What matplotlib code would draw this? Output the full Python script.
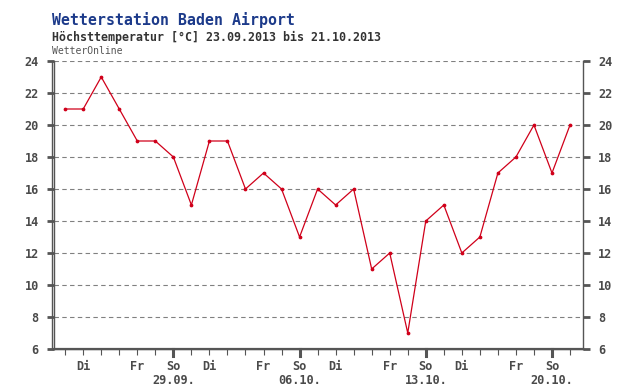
import matplotlib

matplotlib.use("Agg")
import matplotlib.pyplot as plt
from matplotlib.lines import Line2D

# Höchsttemperatur 23.09.2013 .. 21.10.2013
temps = [21, 21, 23, 21, 19, 19, 18, 15, 19, 19, 16, 17, 16, 13, 16,
         15, 16, 11, 12, 7, 14, 15, 12, 13, 17, 18, 20, 17, 20]
weekday_idx = [1, 4, 6, 8, 11, 13, 15, 18, 20, 22, 25, 27]
weekday_lab = ["Di", "Fr", "So", "Di", "Fr", "So", "Di", "Fr", "So", "Di", "Fr", "So"]
sunday_idx = [6, 13, 20, 27]
sunday_dates = ["29.09.", "06.10.", "13.10.", "20.10."]
yticks = [6, 8, 10, 12, 14, 16, 18, 20, 22, 24]

ink = "#4a4a4a"
blue = "#1c3a8a"
red = "#d0001a"
mono = "DejaVu Sans Mono"

fig = plt.figure(figsize=(6.4, 3.9), dpi=100)
ax = fig.add_axes([54 / 640, 1 - 349 / 390, (583 - 54) / 640, (349 - 61) / 390])

x = list(range(len(temps)))
ax.plot(x, temps, color=red, linewidth=0.9, marker="o", markersize=1.7)

ax.set_xlim(-0.62, 28.72)
ax.set_ylim(6, 24)
ax.set_yticks(yticks)
ax.set_yticklabels([str(v) for v in yticks], fontsize=8.6, fontweight="bold",
                   color=ink, family=mono)
ax.tick_params(axis="y", which="both", left=True, right=True, labelleft=True,
               labelright=True, length=5, width=2, color="#555555", pad=6)
for y in yticks[1:]:
    ax.axhline(y, color="#808080", linewidth=0.8, linestyle=(0, (4, 3)), zorder=0)

ax.set_xticks(x)
ax.set_xticklabels([])
ax.tick_params(axis="x", length=4, width=0.8, color="#555555", direction="out")

ax.spines["top"].set_visible(False)
for s in ["left", "right", "bottom"]:
    ax.spines[s].set_color("#555555")
    ax.spines[s].set_linewidth(1.0)

# double left edge
ax.add_line(Line2D([-0.62 - 2.5 / 18.04] * 2, [6, 24], color="#555555",
                   linewidth=1.0, clip_on=False))
ax.axhline(6, color="#555555", linewidth=1.6, clip_on=False)

for i in sunday_idx:
    ax.add_line(Line2D([i, i], [6, 6 - 7 / 16], color="#555555", linewidth=2.2,
                       clip_on=False))

for i, lab in zip(weekday_idx, weekday_lab):
    ax.text(i, 6 - 17 / 16, lab, ha="center", va="center", fontsize=8.6,
            fontweight="bold", color=ink, family=mono)
for i, lab in zip(sunday_idx, sunday_dates):
    ax.text(i, 6 - 31 / 16, lab, ha="center", va="center", fontsize=8.6,
            fontweight="bold", color=ink, family=mono)

fig.text(52 / 640, 1 - 20 / 390, "Wetterstation Baden Airport", fontsize=10.7,
         fontweight="bold", color=blue, family=mono, va="center")
fig.text(52 / 640, 1 - 37 / 390, "Höchsttemperatur [°C] 23.09.2013 bis 21.10.2013",
         fontsize=8.4, fontweight="bold", color="#333333", family=mono, va="center")
fig.text(52 / 640, 1 - 51 / 390, "WetterOnline", fontsize=7, color="#555555",
         family=mono, va="center")

fig.savefig("out.png", dpi=100)
